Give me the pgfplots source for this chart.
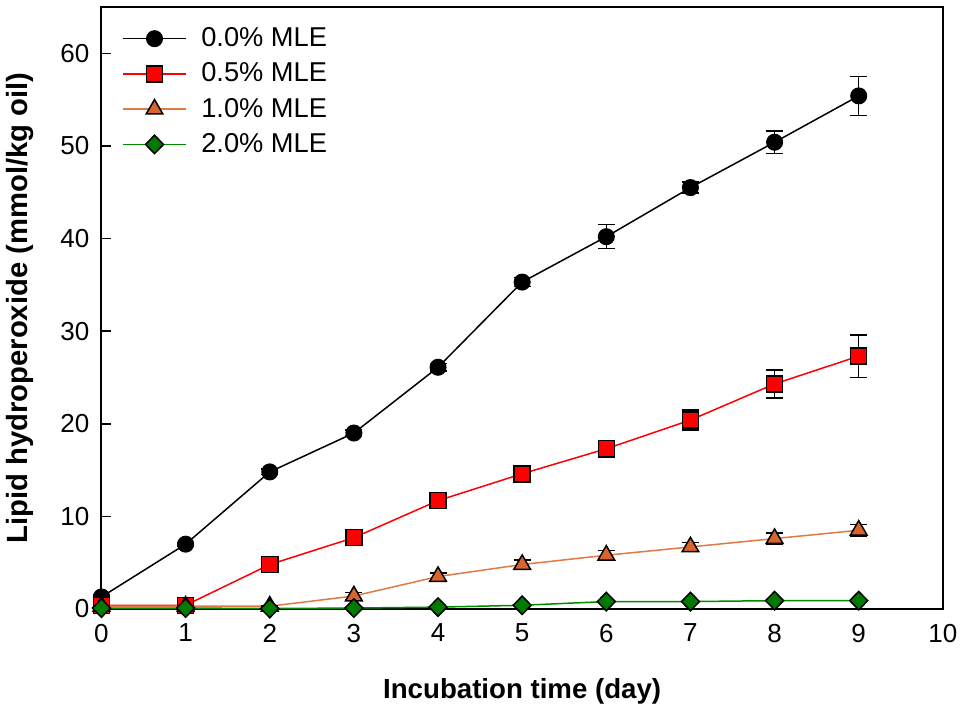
\documentclass[border=0pt]{standalone}
\usepackage{fontspec}
\setmainfont{Liberation Sans}
\usepackage{pgfplots}
\pgfplotsset{compat=1.18}
\definecolor{mleorange}{HTML}{E07A45}
\definecolor{mleorangefill}{HTML}{D8652E}
\definecolor{mlegreen}{HTML}{008A00}
\definecolor{mlegreenfill}{HTML}{007A00}

\pgfplotstableread{
x y e
0 1.3 0.2
1 7.0 0.2
2 14.8 0.3
3 19.0 0.3
4 26.1 0.4
5 35.3 0.5
6 40.2 1.3
7 45.5 0.6
8 50.4 1.2
9 55.4 2.1
}\mleA
\pgfplotstableread{
x y e
0 0.4 0.1
1 0.4 0.1
2 4.8 0.3
3 7.7 0.3
4 11.7 0.4
5 14.6 0.4
6 17.3 0.9
7 20.4 1.1
8 24.3 1.5
9 27.3 2.3
}\mleB
\pgfplotstableread{
x y e
0 0.3 0.1
1 0.3 0.1
2 0.3 0.1
3 1.4 0.4
4 3.5 0.4
5 4.8 0.5
6 5.8 0.5
7 6.7 0.5
8 7.6 0.6
9 8.5 0.6
}\mleC
\pgfplotstableread{
x y e
0 0.1 0.05
1 0.1 0.05
2 0.05 0.05
3 0.1 0.05
4 0.2 0.05
5 0.4 0.05
6 0.8 0.05
7 0.8 0.05
8 0.9 0.05
9 0.9 0.05
}\mleD

\begin{document}
\begin{tikzpicture}
\begin{axis}[
  scale only axis,
  width=420pt, height=300.5pt,
  xmin=0, xmax=10, ymin=0, ymax=65,
  xtick={0,...,10}, ytick={0,10,...,60},
  xtick pos=bottom, ytick pos=left,
  tick align=inside,
  major tick length=5pt,
  axis line style={line width=1pt},
  every tick/.style={black, line width=0.8pt},
  tick label style={font=\fontsize{13}{15}\selectfont},
  /pgf/number format/assume math mode=true,
  xticklabel style={yshift=-4pt},
  yticklabel style={xshift=-2.5pt},
  xlabel={\textbf{Incubation time (day)}},
  ylabel={\textbf{Lipid hydroperoxide (mmol/kg oil)}},
  xlabel style={font=\fontsize{13.8}{16}\selectfont, at={(axis description cs:0.5,-0.1364)}, anchor=center},
  ylabel style={font=\fontsize{14.6}{16}\selectfont, at={(axis description cs:-0.0964,0.5)}, anchor=center},
  legend style={at={(axis description cs:0.02,0.978)}, anchor=north west,
    draw=none, fill=none, font=\fontsize{13.6}{15}\selectfont,
    row sep=3.6pt, column sep=5.5pt, inner sep=2pt,
    nodes={inner ysep=1.5pt, inner xsep=2pt}},
  legend cell align=left,
  legend image code/.code={
    \draw[mark repeat=2, mark phase=2, #1] plot coordinates {(0pt,0pt) (15.5pt,0pt) (31pt,0pt)};
  },
  every axis plot/.append style={line width=0.75pt},
  error bars/y dir=both,
  error bars/y explicit,
  error bars/error bar style={black, line width=0.75pt},
  error bars/error mark options={rotate=90, black, mark size=4.25pt, line width=0.75pt},
  clip=false,
]
\addplot[black, mark=*, mark size=4pt, mark options={fill=black, draw=black, line width=0.5pt}]
  table[x=x, y=y, y error=e] {\mleA};
\addplot[red, mark=square*, mark size=4pt, mark options={fill=red, draw=black, line width=0.75pt}]
  table[x=x, y=y, y error=e] {\mleB};
\addplot[mleorange, mark=triangle*, mark size=4.8pt, mark options={fill=mleorangefill, draw=black, line width=0.75pt}]
  table[x=x, y=y, y error=e] {\mleC};
\addplot[mlegreen, mark=diamond*, mark size=4.6pt, mark options={fill=mlegreenfill, draw=black, line width=0.75pt, xscale=1.3}]
  table[x=x, y=y, y error=e] {\mleD};
\legend{0.0\% MLE, 0.5\% MLE, 1.0\% MLE, 2.0\% MLE}
\path (axis description cs:1,1) ++(6pt,3.5pt);
\end{axis}
\end{tikzpicture}
\end{document}
